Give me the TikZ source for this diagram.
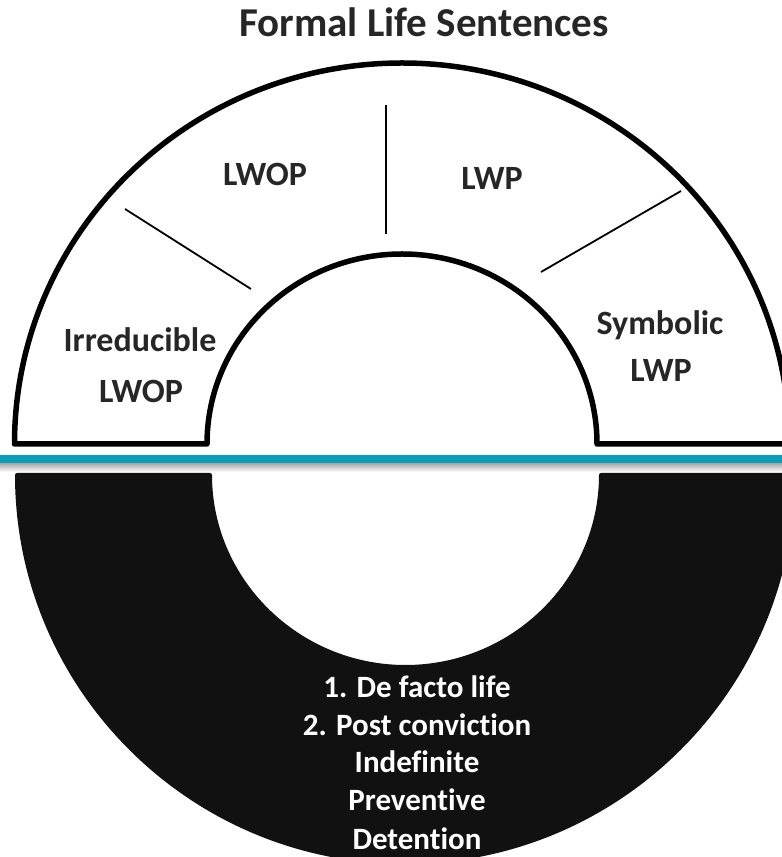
\documentclass[tikz,border=0pt]{standalone}
\usepackage{fontspec}
\setmainfont[Ligatures=NoCommon]{Carlito}
\definecolor{tealline}{HTML}{0B9EBB}
\definecolor{labelgray}{HTML}{262626}
\definecolor{ringblack}{HTML}{111111}
\begin{document}
\begin{tikzpicture}[x=1pt,y=1pt,
  lbl/.style={text=labelgray,font=\fontsize{34}{40}\selectfont\bfseries,anchor=base,inner sep=0pt},
  ttl/.style={text=labelgray,font=\fontsize{41}{48}\selectfont\bfseries,anchor=base,inner sep=0pt},
  wlbl/.style={text=white,font=\fontsize{31}{37}\selectfont\bfseries,anchor=base,inner sep=0pt},
  divider/.style={draw=black,line width=1.8pt},
  ring/.style={draw=black,line width=5.5pt,line join=round,fill=white}]
\useasboundingbox (0,0) rectangle (782,857);
\clip (0,0) rectangle (782,857);
% upper (formal) half ring
\draw[ring] (14.5,413) arc[start angle=180,end angle=0,x radius=387.5,y radius=381]
  -- (597,413) arc[start angle=0,end angle=180,x radius=195,y radius=190] -- cycle;
% dividers
\coordinate (d1a) at (125,648); \coordinate (d1b) at (251,568);
\coordinate (d2a) at (386,752); \coordinate (d2b) at (386,623);
\coordinate (d3a) at (681,666); \coordinate (d3b) at (541,585);
\draw[divider] (d1a) -- (d1b);
\draw[divider] (d2a) -- (d2b);
\draw[divider] (d3a) -- (d3b);
% shadow and teal separator
\shade[top color=black!35,bottom color=white] (0,394) rectangle (782,385);
\draw[tealline,line width=8pt] (0,398) -- (782,398);
% lower (informal) black half ring
\fill[ringblack,rounded corners=2pt] (15,384) arc[start angle=180,end angle=360,x radius=390,y radius=391]
  -- (599,384) arc[start angle=0,end angle=-180,x radius=193.5,y radius=192] -- cycle;
% texts
\node[ttl] (title) at (424,820) {Formal Life Sentences};
\node[lbl] (lwop) at (265,671) {LWOP};
\node[lbl] (lwp) at (492,667) {LWP};
\node[lbl] (irr1) at (140,505) {Irreducible};
\node[lbl] (irr2) at (141,454) {LWOP};
\node[lbl] (sym1) at (660,522) {Symbolic};
\node[lbl] (sym2) at (661,475) {LWP};
\node[wlbl] (b1) at (417,159) {1. De facto life};
\node[wlbl] (b2) at (417,121) {2. Post conviction};
\node[wlbl] (b3) at (417,84) {Indefinite};
\node[wlbl] (b4) at (417,46) {Preventive};
\node[wlbl] (b5) at (417,8) {Detention};
\end{tikzpicture}
\end{document}
